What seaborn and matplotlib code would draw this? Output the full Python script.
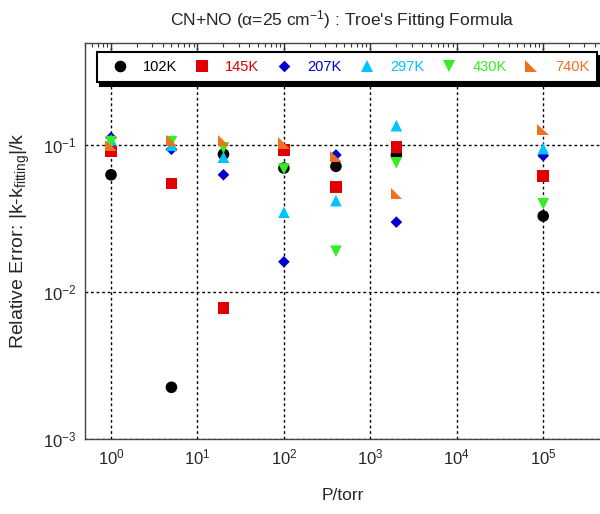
import numpy as np
import pandas as pd
import matplotlib
matplotlib.use("Agg")
import matplotlib.pyplot as plt
import seaborn as sns
from matplotlib.path import Path
from matplotlib.ticker import LogLocator, NullFormatter

# ---- data ----
pressures = [1, 5, 20, 100, 400, 2000, 1e5]
temperatures = ["102K", "145K", "207K", "297K", "430K", "740K"]
err_102 = [0.063, 0.00225, 0.087, 0.070, 0.072, 0.086, 0.033]
err_145 = [0.091, 0.055, 0.0078, 0.093, 0.052, 0.097, 0.062]
err_207 = [0.113, 0.094, 0.063, 0.0161, 0.086, 0.030, 0.085]
err_297 = [0.109, 0.100, 0.083, 0.035, 0.042, 0.136, 0.095]
err_430 = [0.106, 0.106, 0.096, 0.069, 0.019, 0.076, 0.040]
err_740 = [0.100, 0.108, 0.108, 0.104, 0.084, 0.047, 0.128]
series = [err_102, err_145, err_207, err_297, err_430, err_740]
colors = ["#000000", "#e00000", "#0000cc", "#00c4ff", "#33ee22", "#f07020"]

rows = []
for t, vals in zip(temperatures, series):
    for p, v in zip(pressures, vals):
        rows.append({"P": p, "err": v, "T": t})
df = pd.DataFrame(rows)

sns.set_style("white")
plt.rcParams["font.family"] = ["Liberation Sans", "DejaVu Sans"]
plt.rcParams["mathtext.fontset"] = "custom"
plt.rcParams["mathtext.rm"] = "Liberation Sans"
plt.rcParams["mathtext.it"] = "Liberation Sans:italic"
plt.rcParams["mathtext.sf"] = "Liberation Sans"

diamond = Path([(0, 1), (1, 0), (0, -1), (-1, 0), (0, 1)], closed=True)
corner_tri = Path([(-1, 1), (-1, -1), (1, -1), (-1, 1)], closed=True)
markers = dict(zip(temperatures, ["o", "s", diamond, "^", "v", corner_tri]))
palette = dict(zip(temperatures, colors))

fig = plt.figure(figsize=(6.0, 5.14), dpi=100)
ax = fig.add_axes([85 / 600, 1 - 439 / 514, 1 - 85 / 600, (439 - 43) / 514])

sns.scatterplot(data=df, x="P", y="err", hue="T", style="T", markers=markers,
                palette=palette, s=70, linewidth=0, ax=ax, legend=True)

ax.set_xscale("log")
ax.set_yscale("log")
ax.set_xlim(0.5, 10 ** 5.657)
ax.set_ylim(1e-3, 10 ** -0.303)

ax.xaxis.set_major_locator(LogLocator(base=10, numticks=20))
ax.xaxis.set_minor_locator(LogLocator(base=10, subs=np.arange(2, 10), numticks=20))
ax.yaxis.set_major_locator(LogLocator(base=10, numticks=20))
ax.yaxis.set_minor_locator(LogLocator(base=10, subs=np.arange(2, 10), numticks=20))
ax.xaxis.set_minor_formatter(NullFormatter())
ax.yaxis.set_minor_formatter(NullFormatter())

ax.tick_params(which="both", direction="in", top=True, right=False,
               color="#333333", labelsize=12)
ax.tick_params(which="major", length=5, width=1, pad=6)
ax.tick_params(which="minor", length=3, width=0.8)

ax.grid(True, which="major", color="black", linestyle=(0, (2, 2)), linewidth=1)
for side in ["left", "bottom", "top"]:
    ax.spines[side].set_color("#444444")
    ax.spines[side].set_linewidth(1)
ax.spines["right"].set_visible(False)

ax.set_xlabel("P/torr", fontsize=12.5, labelpad=15)
ax.set_ylabel("Relative Error: |k-k$_{\\mathrm{fitting}}$|/k", fontsize=14, labelpad=8)
ax.set_title("CN+NO (α=25 cm$^{-1}$) : Troe's Fitting Formula", fontsize=12.5, pad=13)

handles, labels = ax.get_legend_handles_labels()
if ax.get_legend():
    ax.get_legend().remove()
leg = ax.legend(handles, labels, ncol=6, loc="upper left",
                bbox_to_anchor=(0.0233, 0.977, 0.971, 0.0), mode="expand",
                borderaxespad=0, frameon=True, fancybox=False,
                shadow={"color": "black", "alpha": 1.0, "ox": 2.5, "oy": -2.5},
                fontsize=10.5, handletextpad=0.6, columnspacing=1.0,
                markerscale=1.0, borderpad=0.55)
leg.get_frame().set_edgecolor("black")
leg.get_frame().set_linewidth(1.5)
for txt, c in zip(leg.get_texts(), colors):
    txt.set_color(c)

fig.savefig("out.png", dpi=100)
